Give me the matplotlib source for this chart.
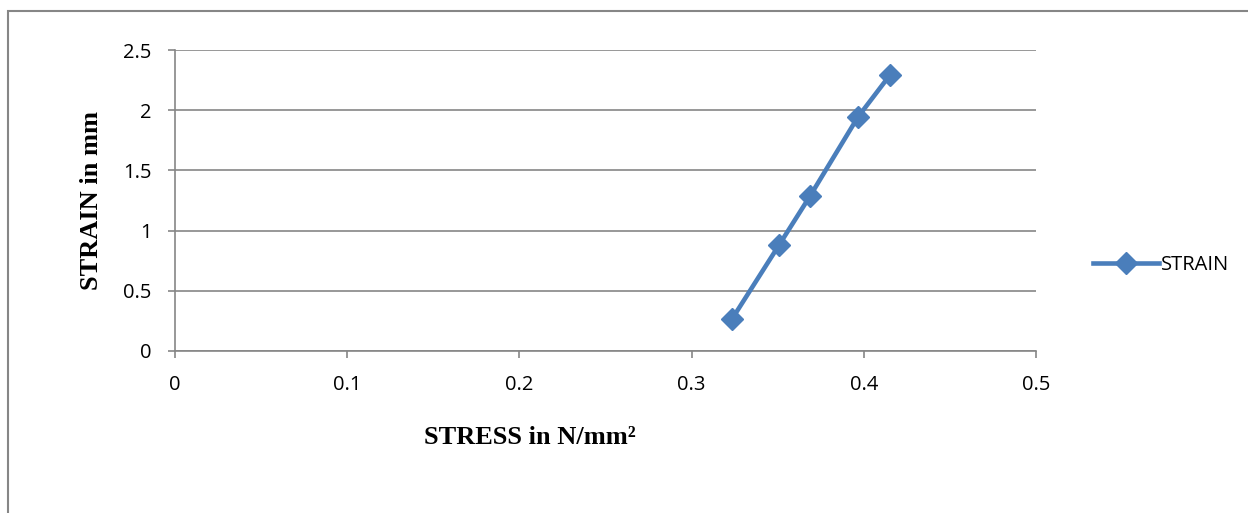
import matplotlib
matplotlib.use("Agg")
import matplotlib.pyplot as plt
from matplotlib.patches import Rectangle

# data
stress = [0.3235, 0.3508, 0.3688, 0.3966, 0.4152]
strain = [0.266, 0.880, 1.287, 1.943, 2.292]
x_ticks = [0, 0.1, 0.2, 0.3, 0.4, 0.5]
y_ticks = [0, 0.5, 1, 1.5, 2, 2.5]

blue = "#4A7EBB"
grey = "#868686"
tick_font = "Open Sans"
label_font = "Liberation Serif"

fig = plt.figure(figsize=(12.48, 5.13), dpi=100)
ax = fig.add_axes([0.1402, 0.3158, 0.6899, 0.5867])

# outer chart border (runs off right and bottom of the picture)
fig.patches.append(Rectangle((8 / 1248, -0.1), 1.2, 1 - 11 / 513 + 0.1,
                             transform=fig.transFigure, fill=False,
                             edgecolor=grey, linewidth=1.5))

ax.plot(stress, strain, color=blue, linewidth=3.3, marker="D",
        markersize=11, label="STRAIN", zorder=3, clip_on=False)

ax.set_xlim(0, 0.5)
ax.set_ylim(0, 2.5)
ax.set_xticks(x_ticks)
ax.set_yticks(y_ticks)
ax.set_xticklabels([f"{t:g}" for t in x_ticks], fontfamily=tick_font, fontsize=14.5)
ax.set_yticklabels([f"{t:g}" for t in y_ticks], fontfamily=tick_font, fontsize=14.5)
ax.tick_params(axis="both", length=5, width=1.2, color=grey, direction="out")
ax.tick_params(axis="x", pad=12)
ax.tick_params(axis="y", pad=12)

ax.grid(axis="y", color=grey, linewidth=1.2)
ax.set_axisbelow(True)
for side in ["top", "right"]:
    ax.spines[side].set_visible(False)
for side in ["left", "bottom"]:
    ax.spines[side].set_color(grey)
    ax.spines[side].set_linewidth(1.2)

fig.text(530 / 1248, 1 - 438 / 513, "STRESS in N/mm\u00b2", ha="center", va="center",
         fontfamily=label_font, fontweight="bold", fontsize=19)
fig.text(92 / 1248, 1 - 200 / 513, "STRAIN in mm", ha="center", va="center",
         rotation=90, fontfamily=label_font, fontweight="bold", fontsize=19)

ax.legend(loc="center left", bbox_to_anchor=(1.045, 0.286), frameon=False,
          prop={"family": tick_font, "size": 14.5}, handlelength=3.3,
          handletextpad=0.1)

fig.savefig("out.png", dpi=100)
